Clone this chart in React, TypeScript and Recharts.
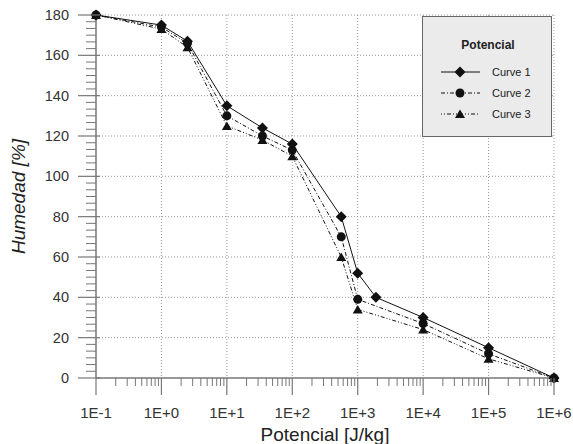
import React from 'react'
import { LineChart, Line, XAxis, YAxis, CartesianGrid, Legend } from 'recharts'

const curve1 = [
  { x: 0.1, y: 180 }, { x: 1, y: 175 }, { x: 2.5, y: 167 }, { x: 10, y: 135 },
  { x: 35, y: 124 }, { x: 100, y: 116 }, { x: 560, y: 80 }, { x: 1000, y: 52 },
  { x: 1900, y: 40 }, { x: 10000, y: 30 }, { x: 100000, y: 15 }, { x: 1000000, y: 0 }
]
const curve2 = [
  { x: 0.1, y: 180 }, { x: 1, y: 174 }, { x: 2.5, y: 166 }, { x: 10, y: 130 },
  { x: 35, y: 120 }, { x: 100, y: 113 }, { x: 560, y: 70 }, { x: 1000, y: 39 },
  { x: 10000, y: 27 }, { x: 100000, y: 12 }, { x: 1000000, y: 0 }
]
const curve3 = [
  { x: 0.1, y: 180 }, { x: 1, y: 173 }, { x: 2.5, y: 164 }, { x: 10, y: 125 },
  { x: 35, y: 118 }, { x: 100, y: 110 }, { x: 560, y: 60 }, { x: 1000, y: 34 },
  { x: 10000, y: 24 }, { x: 100000, y: 9.5 }, { x: 1000000, y: 0 }
]

const xMajor = [0.1, 1, 10, 100, 1000, 10000, 100000, 1000000]
const yMajor = [0, 20, 40, 60, 80, 100, 120, 140, 160, 180]

// minor ticks: 2..9 in each decade, and 6 steps between the y majors
const xTicks: number[] = []
xMajor.forEach((d, i) => {
  xTicks.push(d)
  if (i < xMajor.length - 1) for (let k = 2; k <= 9; k++) xTicks.push(d * k)
})
const yTicks: number[] = []
for (let k = 0; k <= 54; k++) yTicks.push((k * 20) / 6)

const FONT = '"Liberation Sans", Arial, sans-serif'
const INK = '#111'
const AXIS = '#777'

const isDecade = (v: number) => Math.abs(Math.log10(v) - Math.round(Math.log10(v))) < 1e-6
const isMajorY = (v: number) => Math.abs(v / 20 - Math.round(v / 20)) < 1e-6

const fmtExp = (v: number) => {
  const e = Math.round(Math.log10(v))
  return '1E' + (e < 0 ? '-' : '+') + Math.abs(e)
}

const XTick = (props: any) => {
  const { x, y, payload } = props
  const v = payload.value
  if (isDecade(v)) {
    return (
      <g>
        <line x1={x} y1={y} x2={x} y2={y + 17} stroke={AXIS} strokeWidth={1.2} />
        <text x={x} y={y + 40} textAnchor="middle" fontSize={15} fill="#333" fontFamily={FONT}>{fmtExp(v)}</text>
      </g>
    )
  }
  return <line x1={x} y1={y} x2={x} y2={y + 8} stroke={AXIS} strokeWidth={1} />
}

const YTick = (props: any) => {
  const { x, y, payload } = props
  const v = payload.value
  if (isMajorY(v)) {
    return (
      <g>
        <line x1={x - 18} y1={y} x2={x + 4} y2={y} stroke={AXIS} strokeWidth={1.2} />
        <text x={x - 27} y={y + 5} textAnchor="end" fontSize={14.5} fill="#333" fontFamily={FONT}>{Math.round(v)}</text>
      </g>
    )
  }
  return <line x1={x - 10} y1={y} x2={x} y2={y} stroke={AXIS} strokeWidth={1} />
}

const Diamond = ({ cx, cy }: any) => (
  <path d={`M${cx},${cy - 5.5} L${cx + 5.5},${cy} L${cx},${cy + 5.5} L${cx - 5.5},${cy} Z`} fill={INK} />
)
const Circle = ({ cx, cy }: any) => <circle cx={cx} cy={cy} r={4.5} fill={INK} />
const Triangle = ({ cx, cy }: any) => (
  <path d={`M${cx},${cy - 4.5} L${cx + 5},${cy + 4} L${cx - 5},${cy + 4} Z`} fill={INK} />
)

const series = [
  { name: 'Curve 1', data: curve1, dash: undefined, Mark: Diamond },
  { name: 'Curve 2', data: curve2, dash: '4 2 1 2', Mark: Circle },
  { name: 'Curve 3', data: curve3, dash: '1 2 1 2 4 2', Mark: Triangle }
]

const LegendBox = () => (
  <div style={{ width: 130, height: 121, background: '#ebebeb', border: '1px solid #666', boxSizing: 'border-box' }}>
    <svg width={128} height={119} style={{ display: 'block' }}>
      <text x={65} y={32} textAnchor="middle" fontSize={12} fontWeight="bold" fill="#222" fontFamily={FONT}>Potencial</text>
      {series.map((s, i) => {
        const cy = 55 + i * 21
        const Mark = s.Mark
        return (
          <g key={s.name}>
            <line x1={18} y1={cy} x2={57} y2={cy} stroke={INK} strokeWidth={1} strokeDasharray={s.dash} />
            <Mark cx={37} cy={cy} />
            <text x={69} y={cy + 4} fontSize={11} fill="#222" fontFamily={FONT}>{s.name}</text>
          </g>
        )
      })}
    </svg>
  </div>
)

const YLabel = ({ viewBox }: any) => {
  const cy = viewBox.y + viewBox.height / 2
  return (
    <text x={25} y={cy} transform={`rotate(-90, 25, ${cy})`} textAnchor="middle" fontSize={19} fontStyle="italic" fill="#222" fontFamily={FONT}>
      Humedad [%]
    </text>
  )
}

const XLabel = ({ viewBox }: any) => (
  <text x={viewBox.x + viewBox.width / 2} y={viewBox.y + 63} textAnchor="middle" fontSize={19} fill="#222" fontFamily={FONT}>
    Potencial [J/kg]
  </text>
)

export default function App() {
  return (
    <div style={{ position: 'absolute', left: 0, top: 0, width: 573, height: 444, background: '#fff', fontFamily: FONT }}>
      <LineChart width={573} height={444} margin={{ top: 15, right: 19, left: 0, bottom: 0 }}>
        <CartesianGrid
          stroke="#999"
          strokeDasharray="1 2"
          horizontalValues={yMajor.slice(1)}
          verticalValues={xMajor.slice(1)}
        />
        <XAxis
          dataKey="x"
          type="number"
          scale="log"
          domain={[0.1, 1000000]}
          ticks={xTicks}
          interval={0}
          height={66}
          tickSize={0}
          tickMargin={0}
          tickLine={false}
          tick={<XTick />}
          axisLine={{ stroke: AXIS, strokeWidth: 1.5 }}
          label={<XLabel />}
        />
        <YAxis
          type="number"
          domain={[0, 180]}
          ticks={yTicks}
          interval={0}
          width={96}
          tickSize={0}
          tickMargin={0}
          tickLine={false}
          tick={<YTick />}
          axisLine={{ stroke: AXIS, strokeWidth: 1.5 }}
          label={<YLabel />}
        />
        <Legend
          layout="vertical"
          align="center"
          verticalAlign="middle"
          content={() => <LegendBox />}
          wrapperStyle={{ left: 422, top: 16, width: 130, height: 121 }}
        />
        {series.map((s) => (
          <Line
            key={s.name}
            name={s.name}
            data={s.data}
            dataKey="y"
            stroke={INK}
            strokeWidth={1}
            strokeDasharray={s.dash}
            dot={(p: any) => <s.Mark key={p.index} cx={p.cx} cy={p.cy} />}
            activeDot={false}
            isAnimationActive={false}
          />
        ))}
      </LineChart>
    </div>
  )
}
